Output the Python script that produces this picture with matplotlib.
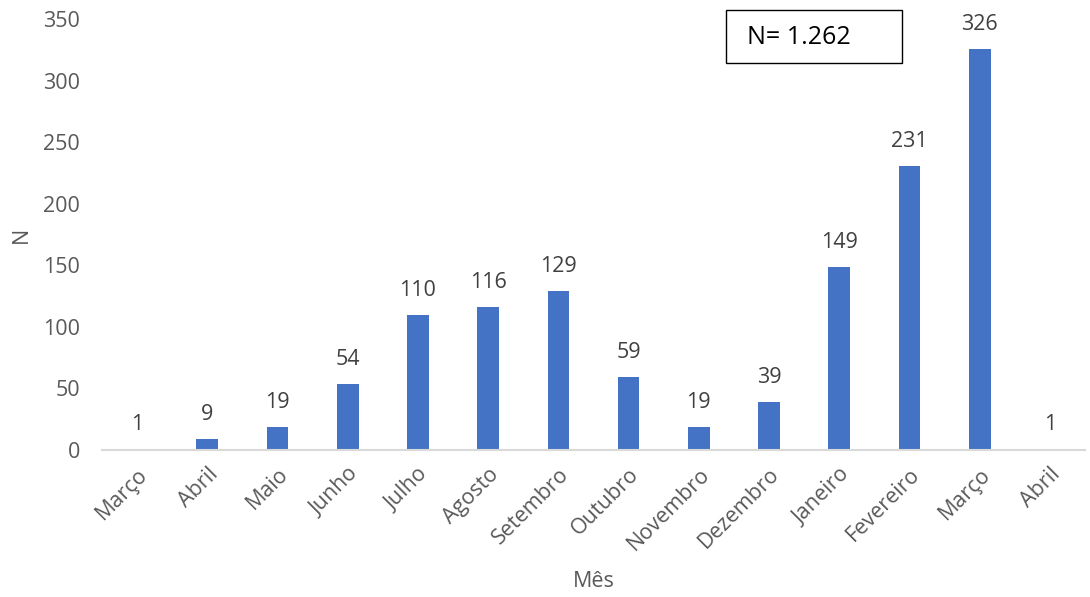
import matplotlib.pyplot as plt
from matplotlib.patches import Rectangle

plt.rcParams['font.family'] = ['Open Sans', 'DejaVu Sans']

# Monthly counts
meses = ["Março", "Abril", "Maio", "Junho", "Julho", "Agosto", "Setembro",
         "Outubro", "Novembro", "Dezembro", "Janeiro", "Fevereiro", "Março", "Abril"]
contagem = [1, 9, 19, 54, 110, 116, 129, 59, 19, 39, 149, 231, 326, 1]
total_txt = "N= 1.262"

fig = plt.figure(figsize=(10.9, 5.97), dpi=100)
ax = fig.add_axes([0.0936, 0.2462, 0.9018, 0.7218])

x = range(len(contagem))
bars = ax.bar(x, contagem, width=0.31, color="#4472C4")

for b, v in zip(bars, contagem):
    ax.annotate(str(v), (b.get_x() + b.get_width() / 2, v),
                xytext=(0, 10), textcoords="offset points",
                ha="center", va="bottom", fontsize=15.5, color="#404040")

ax.set_xlim(-0.5, len(contagem) - 0.5)
ax.set_ylim(0, 350)
ax.set_yticks(range(0, 351, 50))
ax.set_xticks(list(x))
ax.set_xticklabels(meses, rotation=45, ha="right", rotation_mode="anchor")
ax.tick_params(axis="both", length=0, labelsize=15.5, labelcolor="#595959")
ax.tick_params(axis="y", pad=16)
ax.tick_params(axis="x", pad=10)

for s in ["top", "right", "left"]:
    ax.spines[s].set_visible(False)
ax.spines["bottom"].set_color("#D9D9D9")
ax.spines["bottom"].set_linewidth(1.5)

ax.set_ylabel("N", fontsize=15.5, color="#595959", labelpad=8)
ax.set_xlabel("Mês", fontsize=15.5, color="#595959", labelpad=12)

# Total box
fig.patches.append(Rectangle((0.666, 0.8945), 0.1615, 0.0888, transform=fig.transFigure,
                             fill=False, edgecolor="black", linewidth=1))
fig.text(0.685, 0.938, total_txt, fontsize=18, color="black", va="center", ha="left")

fig.savefig("out.png", dpi=100)
